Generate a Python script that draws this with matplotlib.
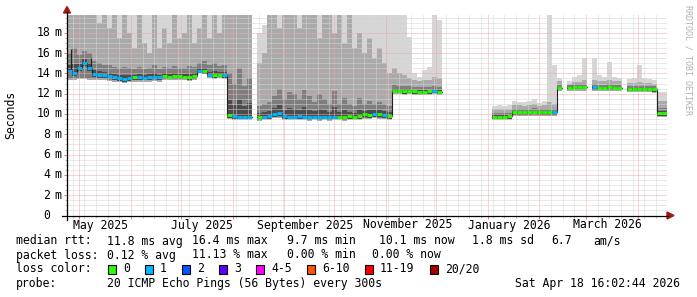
import datetime as dt
import numpy as np
import matplotlib
matplotlib.use('Agg')
import matplotlib.pyplot as plt
import matplotlib.dates as mdates
from matplotlib.patches import Rectangle, Polygon
from matplotlib.ticker import MultipleLocator, NullFormatter

nan = np.nan
plt.rcParams['lines.scale_dashes'] = False

# one value per 3-day bin, starting at the graph start
start = dt.datetime(2025, 4, 23, 16, 2, 44)
binw = 3

# median rtt (ms)
med = [14.2, 14.0, 14.5, 15.0, 14.5, 13.9, 13.8, 13.8, 13.7, 13.6,
       13.5, 13.45, 13.5, 13.6, 13.6, 13.55, 13.6, 13.65, 13.6, 13.7,
       13.65, 13.7, 13.7, 13.65, 13.6, 13.7, 14.25, 14.2, 13.85, 13.8,
       13.85, 13.8, 9.9, 9.8, 9.75, 9.75, 9.75, nan, 9.7, 9.75,
       9.8, 10.0, 10.05, 9.8, 9.75, 9.75, 9.8, 9.75, 9.7, 9.75,
       9.7, 9.75, 9.7, 9.75, 9.75, 9.7, 9.8, 9.75, 9.8, 9.95,
       9.9, 10.0, 9.95, 9.9, 9.8, 12.3, 12.3, 12.25, 12.3, 12.25,
       12.2, 12.2, 12.25, 12.3, 12.2, nan, nan, nan, nan, nan,
       nan, nan, nan, nan, nan, 9.75, 9.75, 9.75, 9.8, 10.15,
       10.15, 10.15, 10.15, 10.2, 10.15, 10.15, 10.15, 10.15, 12.6, nan,
       12.6, 12.7, 12.7, 12.7, nan, 12.65, 12.6, 12.6, 12.65, 12.6,
       12.6, nan, 12.5, 12.5, 12.5, 12.5, 12.5, 12.45, 10.1, 10.1]

# lost pings per bin
loss = [1, 1, 1, 1, 1, 1, 1, 1, 1, 1,
        1, 1, 1, 0, 1, 1, 1, 1, 1, 0,
        0, 0, 0, 0, 0, 0, 1, 0, 1, 0,
        0, 1, 0, 1, 1, 1, 1, 0, 0, 1,
        1, 1, 1, 1, 1, 1, 1, 1, 1, 1,
        1, 1, 1, 1, 0, 0, 0, 0, 0, 0,
        0, 1, 0, 1, 0, 0, 0, 0, 0, 0,
        0, 0, 0, 1, 0, 0, 0, 0, 0, 0,
        0, 0, 0, 0, 0, 0, 0, 0, 0, 0,
        0, 0, 0, 0, 0, 0, 0, 1, 0, 0,
        0, 0, 0, 0, 0, 1, 0, 0, 0, 0,
        0, 0, 0, 0, 0, 0, 0, 0, 0, 0]

# smoke: lowest ping, top of dark part, top of mid-grey part, highest ping
lo = [13.3, 13.3, 13.4, 13.4, 13.3, 13.3, 13.3, 13.3, 13.25, 13.2,
      13.15, 13.1, 13.15, 13.2, 13.2, 13.2, 13.2, 13.25, 13.2, 13.3,
      13.3, 13.3, 13.3, 13.3, 13.25, 13.3, 14.0, 13.95, 13.5, 13.45,
      13.5, 13.45, 9.5, 9.45, 9.4, 9.4, 9.4, nan, 9.35, 9.4,
      9.45, 9.6, 9.6, 9.4, 9.4, 9.4, 9.4, 9.4, 9.35, 9.4,
      9.35, 9.4, 9.35, 9.4, 9.4, 9.35, 9.4, 9.4, 9.4, 9.55,
      9.5, 9.6, 9.55, 9.5, 9.4, 11.95, 11.95, 11.9, 11.95, 11.9,
      11.85, 11.85, 11.9, 11.95, 11.85, nan, nan, nan, nan, nan,
      nan, nan, nan, nan, nan, 9.4, 9.4, 9.4, 9.45, 9.8,
      9.8, 9.8, 9.8, 9.8, 9.8, 9.8, 9.8, 9.8, 12.25, nan,
      12.25, 12.3, 12.3, 12.3, nan, 12.3, 12.25, 12.25, 12.3, 12.25,
      12.25, nan, 12.15, 12.15, 12.15, 12.15, 12.15, 12.1, 9.75, 9.75]
dark = [16.0, 16.5, 15.8, 16.2, 16.0, 15.2, 15.0, 14.8, 14.8, 14.6,
        14.5, 14.6, 14.5, 14.4, 14.6, 14.4, 14.5, 14.8, 14.4, 14.6,
        14.5, 14.7, 14.5, 14.5, 14.7, 14.6, 15.0, 15.2, 14.8, 15.0,
        14.7, 14.8, 14.0, 13.0, 14.5, 12.8, 13.5, nan, 10.8, 11.0,
        11.2, 11.8, 12.5, 11.5, 12.2, 12.0, 11.5, 12.4, 11.8, 11.2,
        12.0, 11.5, 11.0, 12.3, 11.0, 11.6, 11.0, 10.8, 11.6, 11.0,
        11.3, 11.0, 11.2, 11.0, 10.8, 12.9, 12.8, 12.8, 12.8, 12.7,
        12.7, 12.7, 12.7, 12.8, 12.7, nan, nan, nan, nan, nan,
        nan, nan, nan, nan, nan, 10.1, 10.1, 10.1, 10.1, 10.5,
        10.5, 10.5, 10.5, 10.6, 10.5, 10.5, 10.5, 10.5, 12.9, nan,
        12.9, 12.95, 12.95, 12.95, nan, 12.95, 12.9, 12.9, 12.95, 12.9,
        12.9, nan, 12.8, 12.8, 12.8, 12.8, 12.8, 12.8, 10.6, 10.6]
mid = [19.8, 19.8, 19.8, 19.8, 19.8, 19.8, 19.0, 19.8, 18.5, 19.8,
       17.5, 19.8, 18.0, 16.5, 19.8, 17.0, 16.0, 19.8, 16.5, 18.5,
       17.0, 19.8, 17.5, 18.0, 19.8, 17.0, 18.5, 19.8, 17.5, 19.8,
       18.0, 19.8, 19.8, 19.8, 19.8, 19.8, 19.8, nan, 15.0, 16.0,
       19.8, 19.8, 18.5, 19.8, 19.8, 19.8, 18.5, 19.8, 19.8, 19.8,
       17.5, 19.8, 19.8, 18.0, 19.8, 17.0, 19.8, 16.5, 18.0, 16.0,
       17.5, 15.5, 16.5, 15.0, 14.0, 14.5, 14.0, 13.8, 13.5, 13.3,
       13.2, 13.3, 13.3, 13.6, 13.5, nan, nan, nan, nan, nan,
       nan, nan, nan, nan, nan, 10.5, 10.5, 10.5, 10.5, 10.9,
       10.9, 10.8, 10.9, 11.0, 10.8, 10.9, 11.2, 11.0, 13.2, nan,
       13.0, 13.2, 13.2, 13.3, nan, 13.3, 13.2, 13.2, 13.3, 13.2,
       13.2, nan, 13.1, 13.1, 13.2, 13.1, 13.1, 13.0, 11.3, 11.3]
hi = [19.8, 19.8, 19.8, 19.8, 19.8, 19.8, 19.8, 19.8, 19.8, 19.8,
      19.8, 19.8, 19.8, 19.8, 19.8, 19.8, 19.8, 19.8, 19.8, 19.8,
      19.8, 19.8, 19.8, 19.8, 19.8, 19.8, 19.8, 19.8, 19.8, 19.8,
      19.8, 19.8, 19.8, 19.8, 19.8, 19.8, 19.8, nan, 18.0, 18.8,
      19.8, 19.8, 19.8, 19.8, 19.8, 19.8, 19.8, 19.8, 19.8, 19.8,
      19.8, 19.8, 19.8, 19.8, 19.8, 19.8, 19.8, 19.8, 19.8, 19.8,
      19.8, 19.8, 19.8, 19.8, 19.8, 19.8, 19.8, 19.8, 17.6, 14.0,
      13.6, 14.3, 14.6, 19.8, 19.3, nan, nan, nan, nan, nan,
      nan, nan, nan, nan, nan, 10.8, 10.9, 10.8, 10.9, 11.3,
      11.2, 11.2, 11.3, 11.5, 11.1, 11.3, 19.8, 14.8, 13.5, nan,
      13.2, 13.6, 13.8, 15.5, nan, 15.5, 13.8, 13.6, 15.1, 13.6,
      13.5, nan, 13.4, 13.5, 14.8, 13.5, 13.4, 13.3, 12.2, 12.2]

# single-sample median spikes (days from start, ms)
spike_day = [2.4, 14.4]
spike_top = [16.4, 15.5]

loss_labels = ['0', '1', '2', '3', '4-5', '6-10', '11-19', '20/20']
loss_colors = ['#26ff00', '#00b8ff', '#0059ff', '#5e00ff', '#ff00ff',
               '#ff5500', '#ff0000', '#a10000']

W, H = 697, 297
L, R, T, B = 67, 667, 14.5, 215.5
ytop = 19.8

fig = plt.figure(figsize=(W / 100, H / 100), dpi=100)
fig.patch.set_facecolor('white')
ax = fig.add_axes([L / W, 1 - B / H, (R - L) / W, (B - T) / H])

t0 = mdates.date2num(start)
med = np.array(med)
lo, dark, mid, hi = map(np.array, (lo, dark, mid, hi))
x = t0 + binw * np.arange(len(med))


def band(bottom, top, color):
    h = top - bottom
    ok = ~np.isnan(h)
    ax.bar(x[ok], h[ok], width=binw, bottom=bottom[ok], align='edge',
           color=color, linewidth=0, zorder=1)


band(lo, hi, '#d6d6d6')
band(lo, mid, '#aaaaaa')
band(lo + 0.1, dark, '#7e7e7e')
band(med - 0.25, med + 0.35 * (dark - med), '#4c4c4c')

xe = np.append(x, x[-1] + binw)
ax.step(xe, np.append(med, med[-1]), where='post', color='#202020',
        lw=0.8, zorder=3)
sd = t0 + np.array(spike_day)
base = [med[int(d // binw)] for d in spike_day]
ax.vlines(sd, base, spike_top, color='#202020', lw=0.8, zorder=3)
ok = ~np.isnan(med)
cols = [loss_colors[l] for l in np.array(loss)[ok]]
ax.hlines(med[ok], x[ok], x[ok] + binw, colors=cols, lw=2.0, zorder=4)

ax.set_xlim(t0, t0 + 360)
ax.set_ylim(0, ytop)
ax.xaxis.set_major_locator(mdates.MonthLocator())
ax.xaxis.set_minor_locator(mdates.WeekdayLocator(byweekday=mdates.SU))
ax.yaxis.set_major_locator(MultipleLocator(2))
ax.yaxis.set_minor_locator(MultipleLocator(0.5))
for a in (ax.xaxis, ax.yaxis):
    a.set_major_formatter(NullFormatter())
    a.set_minor_formatter(NullFormatter())
ax.set_axisbelow(False)
ax.grid(which='minor', color='#d4d4d4', lw=0.72, linestyle=(0, (0.72, 0.72)))
ax.grid(which='major', color='#eeaaaa', lw=0.72, linestyle=(0, (0.72, 0.72)))
ax.tick_params(which='major', length=2.5, width=0.72, color='#e08080')
ax.tick_params(which='minor', length=1.6, width=0.72, color='#bbbbbb')
for s in ax.spines.values():
    s.set_visible(False)
ax.set_facecolor('white')

# overlay in pixel coordinates for axes, arrows and texts
ov = fig.add_axes([0, 0, 1, 1], zorder=5)
ov.set_xlim(0, W)
ov.set_ylim(H, 0)
ov.axis('off')
ov.patch.set_alpha(0)

ov.plot([62, 668], [B, B], color='black', lw=0.9)
ov.plot([L, L], [220, 12], color='black', lw=0.9)
ov.add_patch(Polygon([(667, 212), (674, B), (667, 219)], color='#a01818'))
ov.add_patch(Polygon([(63.5, 13), (L, 6.5), (70.5, 13)], color='#a01818'))

fs = 8.3
mono = 'DejaVu Sans Mono'
ppms = (B - T) / ytop

for v in range(0, 20, 2):
    yy = B - v * ppms
    ov.text(50.5, yy, str(v), ha='right', va='center', fontsize=fs, family=mono)
    if v:
        ov.text(54.5, yy, 'm', ha='left', va='center', fontsize=fs, family=mono)

ov.text(11, 115, 'Seconds', rotation=90, ha='center', va='center',
        fontsize=fs, family=mono)

months = [(2025, 5, 'May 2025'), (2025, 7, 'July 2025'),
          (2025, 9, 'September 2025'), (2025, 11, 'November 2025'),
          (2026, 1, 'January 2026'), (2026, 3, 'March 2026')]
for yr, mo, lab in months:
    d = mdates.date2num(dt.datetime(yr, mo, 1)) + 12.8 - t0
    ov.text(L + d * (R - L) / 360, 225, lab, ha='center', va='center',
            fontsize=fs, family=mono)

ov.text(688, 5, 'RRDTOOL / TOBI OETIKER', rotation=270, ha='center', va='top',
        fontsize=6, family=mono, color='#b0b0b0')

y1, y2, y3, y4 = 241, 255, 269, 283.5
ov.text(16, y1, 'median rtt:', va='center', fontsize=fs, family=mono)
for xx, s in [(107, '11.8 ms avg'), (192, '16.4 ms max'), (287, '9.7 ms min'),
              (379, '10.1 ms now'), (472, '1.8 ms sd'), (551, '6.7'),
              (593, 'am/s')]:
    ov.text(xx, y1, s, va='center', fontsize=fs, family=mono)
ov.text(16, y2, 'packet loss:', va='center', fontsize=fs, family=mono)
for xx, s in [(107, '0.12 % avg'), (192, '11.13 % max'), (287, '0.00 % min'),
              (372, '0.00 % now')]:
    ov.text(xx, y2, s, va='center', fontsize=fs, family=mono)
ov.text(16, y3, 'loss color:', va='center', fontsize=fs, family=mono)
box_x = [108, 145, 182, 219, 256, 307, 365, 430]
for bx, lab, c in zip(box_x, loss_labels, loss_colors):
    ov.add_patch(Rectangle((bx, y3 - 4.5), 8, 9, facecolor=c,
                           edgecolor='black', lw=0.8))
    ov.text(bx + 15, y3, lab, va='center', fontsize=fs, family=mono)
ov.text(16, y4, 'probe:', va='center', fontsize=fs, family=mono)
ov.text(107, y4, '20 ICMP Echo Pings (56 Bytes) every 300s', va='center',
        fontsize=fs, family=mono)
ov.text(680, y4, 'Sat Apr 18 16:02:44 2026', ha='right', va='center',
        fontsize=fs, family=mono)

fig.savefig('out.png', dpi=100, facecolor='white')
